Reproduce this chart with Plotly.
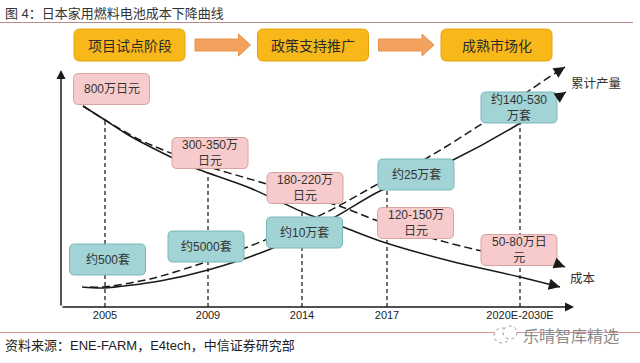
import numpy as np
import plotly.graph_objects as go

# ---------------- data ----------------
years = ["2005", "2009", "2014", "2017", "2020E-2030E"]
stages = ["项目试点阶段", "政策支持推广", "成熟市场化"]
cost_labels = ["800万日元", "300-350万<br>日元", "180-220万<br>日元", "120-150万<br>日元", "50-80万日<br>元"]
volume_labels = ["约500套", "约5000套", "约10万套", "约25万套", "约140-530<br>万套"]

# schematic curves: knot positions along the time axis and heights above it
cost_solid_x = [83, 105, 130, 190, 250, 307, 343, 383, 450, 520, 560]
cost_solid_y = [201, 187, 171, 141, 119, 93, 80, 65, 46, 30, 20]
cost_dash_x = [83, 105, 140, 200, 260, 300, 342, 378, 427, 482, 557, 565]
cost_dash_y = [201, 187, 167, 143, 125, 113, 100, 86, 70, 56, 43, 40]
vol_solid_x = [82, 103, 160, 208, 273, 335, 378, 453, 517, 557, 566]
vol_solid_y = [20, 19, 26, 37, 59, 90, 115, 147, 182, 209, 215]
vol_dash_x = [90, 103, 150, 203, 245, 270, 327, 378, 427, 483, 530, 557, 565]
vol_dash_y = [20, 20, 28, 44, 59, 69, 95, 123, 149, 184, 217, 235, 240]

# ---------------- layout helpers ----------------
W, H = 640, 363
BASE = 307                       # pixel row of the time axis
year_x = [105, 208, 302, 387, 520]
cost_box = [(111.5, 89), (210, 153), (305, 188), (415.5, 223), (519, 250)]
vol_box = [(107.5, 259.5), (206, 246.5), (304.5, 232.5), (416, 174.5), (519, 107.5)]
stage_box = [(129.5, 45), (313, 45), (496.5, 45)]

CJK = "Noto Sans CJK SC"
FONT = "Liberation Sans, Noto Sans CJK SC"
INK = "#1a1a1a"


def Y(p):
    return BASE - p


def rrect(cx, cy, w, h, r):
    x0, x1 = cx - w / 2, cx + w / 2
    y0, y1 = Y(cy - h / 2), Y(cy + h / 2)
    return (f"M{x0+r},{y0} L{x1-r},{y0} Q{x1},{y0} {x1},{y0-r} "
            f"L{x1},{y1+r} Q{x1},{y1} {x1-r},{y1} L{x0+r},{y1} "
            f"Q{x0},{y1} {x0},{y1+r} L{x0},{y0-r} Q{x0},{y0} {x0+r},{y0} Z")


fig = go.Figure()
shapes, annos = [], []

# vertical dashed guides up to the higher of the two solid curves
for xp in year_x:
    top = max(np.interp(xp, cost_solid_x, cost_solid_y), np.interp(xp, vol_solid_x, vol_solid_y))
    shapes.append(dict(type="line", x0=xp, x1=xp, y0=0, y1=top, layer="below",
                       line=dict(color="#333333", width=1.4, dash="4px,3px")))

# curves
for xs, ys, dash in [(cost_solid_x, cost_solid_y, "solid"), (cost_dash_x, cost_dash_y, "8px,4px"),
                     (vol_solid_x, vol_solid_y, "solid"), (vol_dash_x, vol_dash_y, "8px,4px")]:
    fig.add_trace(go.Scatter(x=xs, y=ys, mode="lines",
                             line=dict(color=INK, width=1.5, dash=dash, shape="spline", smoothing=0.8),
                             hoverinfo="skip", showlegend=False))
    dx, dy = xs[-1] - xs[-2], ys[-1] - ys[-2]
    n = (dx * dx + dy * dy) ** 0.5
    L = 9
    annos.append(dict(x=xs[-1], y=ys[-1], ax=-dx / n * L, ay=dy / n * L, showarrow=True,
                      arrowhead=2, arrowsize=1.4, arrowwidth=1.6, arrowcolor=INK, text=""))

# value boxes
for (cx, cy), lab in zip(cost_box, cost_labels):
    shapes.append(dict(type="path", path=rrect(cx, cy, 76, 31, 5), fillcolor="#F7CBCB",
                       line=dict(color="#D7A2A2", width=1), layer="above"))
    annos.append(dict(x=cx, y=Y(cy), text=lab, showarrow=False, font=dict(family=FONT, size=12, color="#333333")))
for (cx, cy), lab in zip(vol_box, volume_labels):
    shapes.append(dict(type="path", path=rrect(cx, cy, 76, 31, 5), fillcolor="#A2D4D5",
                       line=dict(color="#7BB6B8", width=1), layer="above"))
    annos.append(dict(x=cx, y=Y(cy), text=lab, showarrow=False, font=dict(family=FONT, size=12, color="#333333")))

# stage boxes and arrows
for (cx, cy), lab in zip(stage_box, stages):
    shapes.append(dict(type="path", path=rrect(cx, cy, 111, 32, 6), fillcolor="#F8B81A",
                       line=dict(color="#E3A311", width=1), layer="above"))
    annos.append(dict(x=cx, y=Y(cy), text=lab, showarrow=False, font=dict(family=CJK, size=14, color="#2b2b2b")))
for i in range(2):
    x0 = stage_box[i][0] + 55.5 + 10
    x2 = stage_box[i + 1][0] - 55.5 - 7
    x1 = x2 - 12
    cy = stage_box[i][1]
    p = (f"M{x0},{Y(cy-6)} L{x1},{Y(cy-6)} L{x1},{Y(cy-11)} L{x2},{Y(cy)} "
         f"L{x1},{Y(cy+11)} L{x1},{Y(cy+6)} L{x0},{Y(cy+6)} Z")
    shapes.append(dict(type="path", path=p, fillcolor="#F2A25E", line=dict(color="#E8924C", width=1), layer="above"))

# axes drawn as arrows
annos.append(dict(x=61, y=Y(70), ax=0, ay=237, showarrow=True, arrowhead=2, arrowsize=1.2,
                  arrowwidth=1.5, arrowcolor=INK, text=""))
annos.append(dict(x=574, y=0, ax=-513, ay=0, showarrow=True, arrowhead=2, arrowsize=1.2,
                  arrowwidth=1.5, arrowcolor=INK, text=""))

# axis end labels
annos.append(dict(x=569, y=Y(82), text="累计产量", xanchor="left", showarrow=False,
                  font=dict(family=CJK, size=12.5, color="#333333")))
annos.append(dict(x=568, y=Y(277), text="成本", xanchor="left", showarrow=False,
                  font=dict(family=CJK, size=12.5, color="#333333")))

# title, rules, source, watermark
annos.append(dict(x=3, y=Y(13), text="图 4：日本家用燃料电池成本下降曲线", xanchor="left", showarrow=False,
                  font=dict(family=FONT, size=13, color="#333333")))
shapes.append(dict(type="line", x0=0, x1=633, y0=Y(22.5), y1=Y(22.5), line=dict(color="#B98C8C", width=1)))
shapes.append(dict(type="line", x0=0, x1=640, y0=Y(332.5), y1=Y(332.5), line=dict(color="#D89292", width=1)))
annos.append(dict(x=3, y=Y(345), text="资料来源：ENE-FARM，E4tech，中信证券研究部", xanchor="left", showarrow=False,
                  font=dict(family=FONT, size=13, color="#222222")))
annos.append(dict(x=521, y=Y(335), text="乐晴智库精选", xanchor="left", showarrow=False,
                  font=dict(family=CJK, size=16, color="#8a8a8a")))
shapes.append(dict(type="circle", x0=494, x1=510, y0=Y(343), y1=Y(328),
                   line=dict(color="#9a9a9a", width=1, dash="dot"), fillcolor="white"))
shapes.append(dict(type="circle", x0=503, x1=517, y0=Y(339), y1=Y(326),
                   line=dict(color="#9a9a9a", width=1, dash="dot"), fillcolor="white"))

fig.update_layout(
    width=W, height=H, autosize=False,
    margin=dict(l=0, r=0, t=0, b=0),
    paper_bgcolor="white", plot_bgcolor="white",
    showlegend=False,
    shapes=shapes, annotations=annos,
    xaxis=dict(range=[0, W], showgrid=False, zeroline=False, showline=False, ticks="",
               tickmode="array", tickvals=year_x, ticktext=years,
               tickfont=dict(family="Liberation Sans", size=11, color="#222222"),
               anchor="free", position=(H - BASE) / H, fixedrange=True),
    yaxis=dict(range=[BASE - H, BASE], visible=False, fixedrange=True),
)

fig.write_html("out.html", config=dict(displayModeBar=False),
               post_script="document.body.style.margin='0';document.body.style.overflow='hidden';")
